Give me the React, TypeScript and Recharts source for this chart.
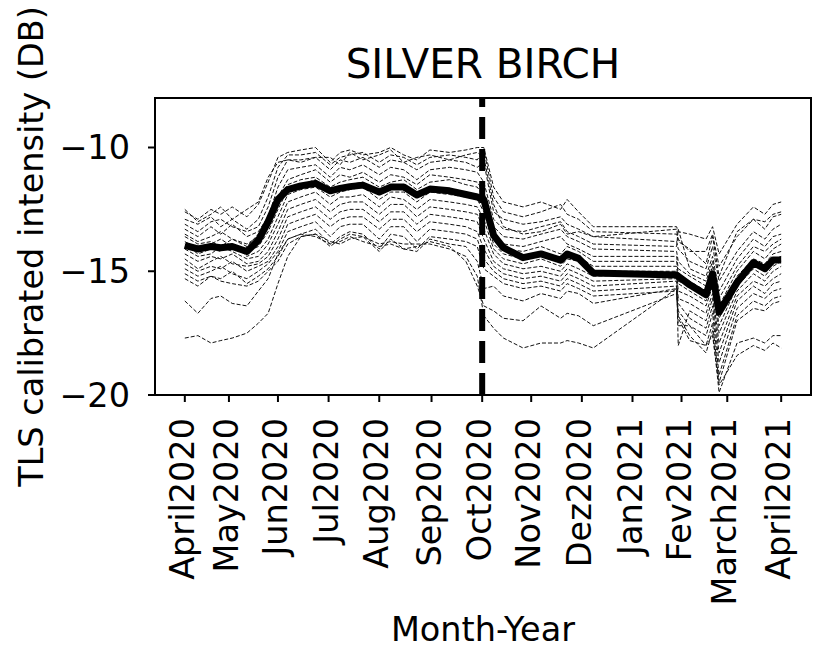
import { LineChart, Line, XAxis, YAxis, ReferenceLine, ReferenceArea } from "recharts";

// days since the first scan (April 2020)
const sampleDays = [
  0, 8, 16, 22, 29, 38, 45, 51, 57, 63, 71, 80, 89, 95, 101, 109, 119, 126, 134, 142, 150, 162,
  172, 179, 183, 189, 195, 207, 218, 230, 234, 241, 250, 301, 302, 309, 319, 323, 327, 338, 348, 355, 360, 365,
];

const meanIntensity = [
  -13.95, -14.1, -14.0, -14.05, -14.0, -14.2,
  -13.75, -13.0, -12.1, -11.7,
  -11.55, -11.45, -11.75, -11.65, -11.58, -11.52, -11.8, -11.6, -11.6, -11.92, -11.68, -11.75, -11.9, -12.0, -12.1,
  -13.55, -14.05, -14.45, -14.3, -14.55, -14.3, -14.48, -15.07,
  -15.15, -15.2, -15.55, -15.95, -15.1, -16.65, -15.45, -14.65, -14.9, -14.55, -14.55,
];

const tree01 = [-12.6, -12.9, -12.5, -12.7, -12.4, -12.8, -12.3, -11.4, -10.4, -10.2, -10.1, -10.0, -10.6, -10.2, -10.1, -10.3, -10.2, -10.0, -10.3, -10.5, -10.1, -10.2, -10.1, -10.0, -10.0, -11.6, -12.2, -12.4, -12.2, -12.5, -12.1, -12.6, -13.2, -13.2, -13.4, -13.5, -13.7, -13.2, -14.3, -13.1, -12.4, -12.7, -12.3, -12.2];
const tree02 = [-12.9, -13.1, -12.8, -13.2, -12.9, -13.3, -12.9, -12.0, -10.8, -10.3, -10.3, -10.2, -10.7, -10.4, -10.3, -10.2, -10.6, -10.3, -10.4, -10.7, -10.4, -10.3, -10.4, -10.5, -10.1, -12.0, -12.6, -12.8, -12.6, -12.3, -12.7, -12.9, -13.4, -13.5, -13.7, -14.2, -14.2, -13.5, -14.8, -13.6, -12.9, -13.3, -12.8, -12.7];
const tree03 = [-13.1, -13.4, -13.0, -12.9, -13.2, -13.4, -13.2, -12.4, -11.2, -10.5, -10.5, -10.4, -10.9, -10.5, -10.6, -10.4, -10.8, -10.5, -10.6, -10.9, -10.6, -10.5, -10.6, -10.8, -10.6, -12.6, -12.9, -13.1, -13.0, -12.8, -13.1, -13.3, -13.6, -13.8, -14.1, -14.6, -14.9, -14.0, -15.4, -14.2, -13.4, -13.7, -13.3, -13.1];
const tree04 = [-13.3, -13.6, -13.2, -13.5, -13.1, -13.6, -13.4, -12.8, -11.6, -10.9, -10.8, -10.7, -11.2, -10.8, -10.9, -10.7, -11.1, -10.8, -10.9, -11.3, -10.9, -10.8, -10.9, -11.0, -11.4, -12.9, -13.3, -13.4, -13.2, -13.0, -13.4, -13.6, -13.9, -14.0, -13.3, -14.9, -15.2, -14.4, -15.8, -14.5, -13.7, -14.0, -13.6, -13.5];
const tree05 = [-13.5, -13.8, -13.6, -13.4, -13.7, -13.9, -13.6, -13.1, -12.0, -11.3, -11.1, -10.9, -11.4, -11.1, -11.2, -11.0, -11.4, -11.1, -11.2, -11.5, -11.1, -11.2, -11.3, -11.4, -11.8, -13.2, -13.6, -13.7, -13.5, -13.3, -13.6, -13.8, -14.1, -14.2, -14.6, -15.1, -15.4, -14.6, -16.1, -14.8, -14.0, -14.2, -13.9, -13.7];
const tree06 = [-13.6, -13.9, -13.8, -14.0, -13.7, -14.0, -13.5, -12.9, -12.2, -11.5, -11.3, -11.2, -11.6, -11.4, -11.3, -11.2, -11.6, -11.4, -11.3, -11.7, -11.4, -11.3, -11.5, -11.6, -12.0, -13.4, -13.9, -14.0, -13.8, -13.6, -13.9, -14.1, -14.4, -14.4, -14.9, -15.2, -15.6, -14.8, -16.4, -15.0, -14.2, -14.5, -14.1, -13.9];
const tree07 = [-13.8, -14.1, -13.9, -13.7, -14.0, -14.2, -14.0, -13.4, -12.5, -11.7, -11.5, -11.3, -11.8, -11.6, -11.5, -11.4, -11.9, -11.6, -11.5, -11.9, -11.6, -11.7, -11.8, -11.9, -12.3, -13.7, -14.1, -14.2, -14.0, -14.3, -14.0, -14.2, -14.6, -14.6, -15.1, -15.4, -15.8, -15.0, -16.7, -15.2, -14.5, -14.7, -14.3, -14.2];
const tree08 = [-13.9, -14.3, -14.1, -14.2, -13.9, -14.4, -14.2, -13.7, -12.8, -11.9, -11.7, -11.6, -12.0, -11.8, -11.7, -11.6, -12.1, -11.8, -11.8, -12.2, -11.8, -11.9, -12.0, -12.1, -12.6, -13.9, -14.3, -14.5, -14.3, -14.5, -14.2, -14.4, -14.8, -14.8, -15.4, -15.6, -16.0, -15.2, -16.9, -15.4, -14.7, -14.9, -14.5, -14.4];
const tree09 = [-14.1, -14.4, -14.3, -14.0, -14.2, -14.5, -14.4, -13.9, -13.1, -12.2, -12.0, -11.8, -12.3, -12.0, -12.0, -11.9, -12.4, -12.0, -12.1, -12.5, -12.1, -12.2, -12.3, -12.4, -12.9, -14.1, -14.5, -14.7, -14.5, -14.8, -14.5, -14.6, -15.0, -15.0, -15.5, -15.8, -16.2, -15.4, -17.2, -15.6, -14.9, -15.2, -14.8, -14.6];
const tree10 = [-14.3, -14.6, -14.4, -14.5, -14.3, -14.7, -14.6, -14.2, -13.4, -12.5, -12.3, -12.1, -12.6, -12.3, -12.2, -12.2, -12.7, -12.3, -12.3, -12.8, -12.4, -12.5, -12.6, -12.7, -13.3, -14.3, -14.7, -14.9, -14.8, -15.0, -14.7, -14.9, -15.2, -15.1, -15.8, -16.0, -16.4, -15.6, -17.5, -15.8, -15.1, -15.4, -15.0, -14.8];
const tree11 = [-14.5, -14.9, -14.6, -14.4, -14.7, -14.8, -14.7, -14.4, -13.7, -12.8, -12.6, -12.4, -12.9, -12.6, -12.5, -12.5, -13.0, -12.6, -12.6, -13.1, -12.7, -12.8, -12.9, -13.0, -13.7, -14.6, -14.9, -15.1, -15.0, -15.2, -14.9, -15.1, -15.4, -15.3, -16.1, -16.3, -16.7, -15.9, -17.9, -16.0, -15.4, -15.6, -15.3, -15.1];
const tree12 = [-14.7, -15.0, -14.8, -14.9, -14.6, -15.0, -14.8, -14.6, -14.0, -13.1, -12.9, -12.7, -13.2, -12.9, -12.8, -12.8, -13.3, -12.9, -12.9, -13.4, -13.0, -13.1, -13.2, -13.4, -14.1, -14.8, -15.1, -15.3, -15.2, -15.4, -15.1, -15.3, -15.6, -15.4, -18.0, -16.6, -17.0, -16.1, -18.3, -16.2, -15.6, -15.9, -15.5, -15.4];
const tree13 = [-14.9, -15.2, -15.0, -14.8, -15.1, -15.3, -15.0, -14.7, -14.2, -13.4, -13.2, -13.0, -13.6, -13.2, -13.1, -13.1, -13.7, -13.2, -13.2, -13.8, -13.3, -13.4, -13.5, -13.7, -14.5, -15.0, -15.3, -15.5, -15.4, -15.6, -15.3, -15.5, -15.8, -15.6, -16.3, -16.9, -17.3, -16.4, -18.7, -16.5, -15.9, -16.1, -15.8, -15.7];
const tree14 = [-15.1, -15.4, -15.2, -15.3, -15.0, -15.5, -15.2, -14.9, -14.4, -13.7, -13.5, -13.3, -13.9, -13.6, -13.4, -13.5, -14.1, -13.5, -13.6, -14.1, -13.6, -13.7, -13.8, -14.0, -14.9, -15.2, -15.5, -15.7, -15.6, -15.8, -15.5, -15.7, -16.0, -15.8, -16.6, -17.2, -17.6, -16.7, -19.2, -16.8, -16.2, -16.4, -16.1, -16.0];
const tree15 = [-15.3, -15.6, -15.2, -15.4, -15.5, -15.6, -15.4, -15.0, -14.6, -13.9, -13.6, -13.5, -14.0, -13.7, -13.5, -13.6, -14.2, -13.7, -14.1, -14.2, -13.7, -13.9, -14.0, -14.6, -15.7, -15.6, -16.0, -16.2, -15.9, -16.1, -15.8, -15.9, -16.3, -15.7, -16.9, -17.8, -18.0, -17.1, -19.5, -17.0, -16.5, -16.6, -16.3, -16.2];
const tree16 = [-16.2, -16.7, -16.1, -16.0, -16.3, -16.4, -15.8, -15.3, -14.3, -13.7, -13.5, -13.6, -13.9, -13.8, -13.6, -13.8, -14.0, -13.9, -14.1, -14.0, -13.8, -14.0, -14.6, -15.6, -16.4, -16.6, -16.9, -17.0, -16.4, -16.9, -16.7, -16.8, -17.2, -15.9, -16.8, -17.6, -18.3, -17.4, -19.9, -17.9, -17.7, -17.9, -17.6, -17.6];
const tree17 = [-17.7, -17.6, -17.9, -17.8, -17.7, -17.5, -17.1, -16.7, -15.5, -14.4, -13.6, -13.5, -13.8, -13.9, -13.7, -13.6, -13.9, -13.8, -13.9, -13.9, -13.9, -14.1, -14.4, -15.2, -16.8, -17.3, -17.7, -18.1, -17.9, -17.9, -17.8, -17.9, -18.1, -15.7, -17.2, -17.2, -18.0, -17.6, -19.6, -18.4, -18.0, -18.2, -17.9, -18.1];
const tree18 = [-12.5, -13.0, -12.7, -12.4, -12.9, -12.5, -12.2, -11.2, -10.6, -10.5, -10.6, -10.4, -10.4, -10.7, -10.2, -10.5, -10.3, -10.1, -10.6, -10.4, -10.3, -10.5, -10.3, -10.2, -10.4, -12.3, -13.2, -13.5, -13.4, -13.1, -13.5, -13.4, -13.6, -13.3, -13.8, -14.1, -14.7, -13.6, -15.2, -13.4, -12.9, -13.0, -12.7, -12.6];

const trees = [
  tree01, tree02, tree03, tree04, tree05, tree06, tree07, tree08, tree09,
  tree10, tree11, tree12, tree13, tree14, tree15, tree16, tree17, tree18,
];

const monthTickDays = [0, 27, 57, 88, 119, 151, 182, 212, 243, 274, 304, 332, 365];
const monthLabels = [
  "April2020", "May2020", "Jun2020", "Jul2020", "Aug2020", "Sep2020", "Oct2020",
  "Nov2020", "Dez2020", "Jan2021", "Fev2021", "March2021", "April2021",
];
const intensityTicks = [-20, -15, -10];
const octoberDay = 182;

const X_DOMAIN: [number, number] = [-18.25, 383.25];
const Y_DOMAIN: [number, number] = [-20, -8];

const rows = sampleDays.map((day, i) => {
  const row: Record<string, number> = { day, mean: meanIntensity[i] };
  trees.forEach((t, k) => {
    row[`t${k}`] = t[i];
  });
  return row;
});

const FONT = "'DejaVu Sans', sans-serif";
const FS = 33.5;

function MonthTick({ x, y, payload }: any) {
  const label = monthLabels[monthTickDays.indexOf(payload.value)];
  return (
    <text
      transform={`translate(${x},${y}) rotate(-90)`}
      textAnchor="end"
      dy="0.27em"
      fontSize={FS}
      fontFamily={FONT}
      fill="#000"
    >
      {label}
    </text>
  );
}

export default function App() {
  return (
    <div style={{ position: "absolute", left: 0, top: 0, width: 813, height: 649, background: "#fff" }}>
      <LineChart
        width={813}
        height={649}
        data={rows}
        margin={{ top: 98, right: 2, bottom: 0, left: 0 }}
      >
        <XAxis
          dataKey="day"
          type="number"
          domain={X_DOMAIN}
          ticks={monthTickDays}
          interval={0}
          height={254}
          tickSize={7}
          tickMargin={16}
          axisLine={{ stroke: "#000", strokeWidth: 2 }}
          tickLine={{ stroke: "#000", strokeWidth: 2 }}
          tick={<MonthTick />}
        />
        <YAxis
          type="number"
          domain={Y_DOMAIN}
          ticks={intensityTicks}
          interval={0}
          width={155}
          tickSize={7}
          tickMargin={18}
          axisLine={{ stroke: "#000", strokeWidth: 2 }}
          tickLine={{ stroke: "#000", strokeWidth: 2 }}
          tick={{ fill: "#000", fontSize: FS, fontFamily: FONT }}
          tickFormatter={(v: number) => `\u2212${Math.abs(v)}`}
        />
        {trees.map((_, k) => (
          <Line
            key={k}
            dataKey={`t${k}`}
            stroke="#111"
            strokeWidth={1}
            strokeDasharray="4 2"
            dot={false}
            activeDot={false}
            isAnimationActive={false}
          />
        ))}
        <Line
          dataKey="mean"
          stroke="#000"
          strokeWidth={7}
          strokeLinejoin="round"
          dot={false}
          activeDot={false}
          isAnimationActive={false}
        />
        <ReferenceLine x={octoberDay} stroke="#000" strokeWidth={6} strokeDasharray="22 10" />
        <ReferenceArea
          x1={X_DOMAIN[0]}
          x2={X_DOMAIN[1]}
          y1={Y_DOMAIN[0]}
          y2={Y_DOMAIN[1]}
          fill="none"
          stroke="#000"
          strokeWidth={2}
          ifOverflow="visible"
        />
      </LineChart>
      <svg
        width={813}
        height={649}
        style={{ position: "absolute", left: 0, top: 0, pointerEvents: "none" }}
        fontFamily={FONT}
        fill="#000"
      >
        <text x={483} y={78} textAnchor="middle" fontSize={40.5}>
          SILVER BIRCH
        </text>
        <text transform="translate(43,246.5) rotate(-90)" textAnchor="middle" fontSize={FS}>
          TLS calibrated intensity (DB)
        </text>
        <text x={483} y={641} textAnchor="middle" fontSize={FS}>
          Month-Year
        </text>
      </svg>
    </div>
  );
}
